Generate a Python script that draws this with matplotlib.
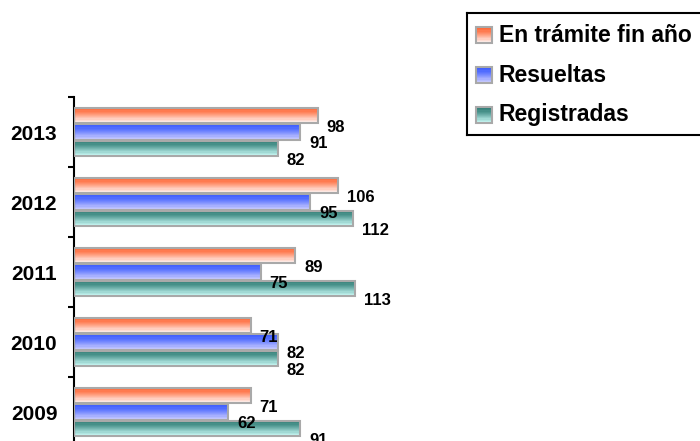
import numpy as np
import matplotlib
matplotlib.use('Agg')
from matplotlib import pyplot as plt
from matplotlib.colors import to_rgb
from matplotlib.patches import Rectangle

# Data (bottom to top on the chart)
years = ['2009', '2010', '2011', '2012', '2013']
series_names = ['En trámite fin año', 'Resueltas', 'Registradas']
en_tramite = [71, 71, 89, 106, 98]
resueltas = [62, 82, 75, 95, 91]
registradas = [91, 82, 113, 112, 82]

top_colors = ['#ff6633', '#3a5aff', '#2e7c75']
bottom_colors = ['#fffafa', '#d4d4ff', '#d0fffb']

plt.rcParams['font.family'] = ['Liberation Sans', 'DejaVu Sans']
plt.rcParams['font.weight'] = 'bold'


def gradient(c_top, c_bot, n=14):
    t = np.linspace(0, 1, n) ** 1.3
    a = np.array(to_rgb(c_top))
    b = np.array(to_rgb(c_bot))
    return (a[None, :] * (1 - t[:, None]) + b[None, :] * t[:, None])[:, None, :]


fig = plt.figure(figsize=(7, 4.41), dpi=100)
ax = fig.add_axes([74/700, -6/441, 373/700, 350/441])
ax.patch.set_alpha(0)

bar_h = 0.22
offsets = [0.235, 0, -0.235]
values = [en_tramite, resueltas, registradas]
y = np.arange(len(years))

for k, vals in enumerate(values):
    grad = gradient(top_colors[k], bottom_colors[k])
    for i, v in enumerate(vals):
        yc = y[i] + offsets[k]
        ax.imshow(grad, extent=(0, v, yc - bar_h/2, yc + bar_h/2),
                  aspect='auto', interpolation='nearest', zorder=2)
    ax.barh(y + offsets[k], vals, height=bar_h, fill=False,
            edgecolor='#a9a9a9', linewidth=1.5, zorder=3)
    for i, v in enumerate(vals):
        ax.annotate(str(v), (v, y[i] + offsets[k]), xytext=(9, -12),
                    textcoords='offset pixels', ha='left', va='center',
                    fontsize=12, fontweight='bold', annotation_clip=False,
                    zorder=4)

ax.set_xlim(0, 150)
ax.set_ylim(-0.5, 4.5)
ax.set_xticks([])
ax.set_yticks(y, years)
ax.tick_params(axis='y', which='major', length=0, pad=12, labelsize=15)
ax.set_yticks(np.arange(-0.5, 5, 1), minor=True)
ax.tick_params(axis='y', which='minor', length=4.5, width=1.5)
for side in ['top', 'right', 'bottom']:
    ax.spines[side].set_visible(False)
ax.spines['left'].set_linewidth(1.5)

# Legend box drawn by hand so the swatches keep their gradient
lax = fig.add_axes([467/700, (441-135)/441, 250/700, 122/441])
lax.set_xticks([])
lax.set_yticks([])
for s in lax.spines.values():
    s.set_linewidth(1.5)
rows = [100, 60, 20]
for k, name in enumerate(series_names):
    grad = gradient(top_colors[k], bottom_colors[k])
    lax.imshow(grad, extent=(9, 25, rows[k] - 8, rows[k] + 8),
               aspect='auto', interpolation='nearest')
    lax.add_patch(Rectangle((9, rows[k] - 8), 16, 16, fill=False,
                            edgecolor='#a9a9a9', linewidth=1.5))
    lax.text(32, rows[k], name, va='center', ha='left', fontsize=16.5,
             fontweight='bold')
lax.set_xlim(0, 250)
lax.set_ylim(0, 122)

plt.savefig('out.png', dpi=100)
